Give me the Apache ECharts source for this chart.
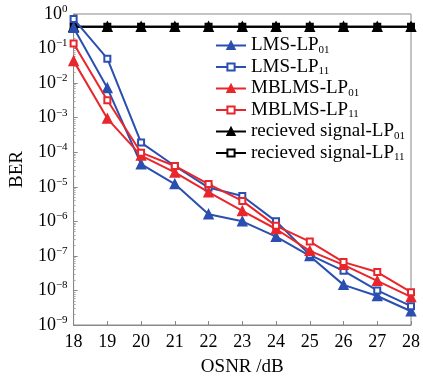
<!DOCTYPE html>
<html><head><meta charset="utf-8">
<script src="https://cdn.jsdelivr.net/npm/echarts@6/dist/echarts.min.js"></script>
<style>html,body{margin:0;padding:0;background:#fff}#c{width:423px;height:382px}</style>
</head><body><div id="c"></div>
<script>
var osnr = [18,19,20,21,22,23,24,25,26,27,28];
var lmsLP01 = [0.40,7.2e-3,4.5e-5,1.2e-5,1.6e-6,1.0e-6,3.6e-7,1.0e-7,1.45e-8,6.9e-9,2.5e-9];
var lmsLP11 = [0.72,0.051,1.9e-4,4.0e-5,9.5e-6,5.4e-6,1.0e-6,1.07e-7,3.7e-8,1.0e-8,3.5e-9];
var mblmsLP01 = [0.044,9.4e-4,8.0e-5,2.6e-5,7.0e-6,2.0e-6,6.0e-7,1.4e-7,5.5e-8,1.9e-8,6.5e-9];
var mblmsLP11 = [0.14,3.2e-3,9.7e-5,4.0e-5,1.2e-5,3.9e-6,7.4e-7,2.6e-7,6.6e-8,3.4e-8,8.9e-9];
var recvLP01 = [0.43,0.43,0.43,0.43,0.43,0.43,0.43,0.43,0.43,0.43,0.43];
var recvLP11 = [0.43,0.43,0.43,0.43,0.43,0.43,0.43,0.43,0.43,0.43,0.43];
var yTickExp = [0,-1,-2,-3,-4,-5,-6,-7,-8,-9];

var FONT = 'Liberation Serif';
var BLUE = '#2a4fb0', RED = '#e8262b', BLACK = '#000';
function pairs(v){ return osnr.map(function(x,i){ return [x, v[i]]; }); }
function ser(name, data, color, sym, z){
  return {name:name, type:'line', data:pairs(data), z:z,
    lineStyle:{color:color,width:2}, itemStyle:{color:color, borderColor:color, borderWidth:1.5},
    symbol:sym, symbolSize: sym==='triangle'?9:6, showSymbol:true, animation:false};
}
var chart = echarts.init(document.getElementById('c'));
chart.setOption({
  animation:false,
  grid:{left:67, right:12, top:14, bottom:56, show:true, borderColor:'#888', borderWidth:1},
  legend:{
    orient:'vertical', left:210, top:31, itemGap:2, itemWidth:30, itemHeight:9,
    textStyle:{fontFamily:FONT, fontSize:19, color:'#000',
      rich:{b:{fontFamily:FONT,fontSize:19,color:'#000'}, s:{fontFamily:FONT,fontSize:11,color:'#000',verticalAlign:'bottom',padding:[9,0,0,0]}}},
    formatter:function(n){ var m=n.match(/^(.*)LP(\d\d)$/); return '{b|'+m[1]+'LP}{s|'+m[2]+'}'; },
    data:['LMS-LP01','LMS-LP11','MBLMS-LP01','MBLMS-LP11','recieved signal-LP01','recieved signal-LP11']
  },
  xAxis:{type:'value', min:18, max:28, interval:1,
    name:'OSNR /dB', nameLocation:'middle', nameGap:33,
    nameTextStyle:{fontFamily:FONT, fontSize:19, color:'#000'},
    axisLine:{lineStyle:{color:'#888'}}, axisTick:{inside:true, length:4, lineStyle:{color:'#888'}},
    axisLabel:{fontFamily:FONT, fontSize:18, color:'#000', margin:8},
    splitLine:{show:false}},
  yAxis:{type:'log', logBase:10, min:1e-9, max:1,
    name:'BER', nameLocation:'middle', nameGap:46,
    nameTextStyle:{fontFamily:FONT, fontSize:19, color:'#000'},
    axisLine:{lineStyle:{color:'#888'}}, axisTick:{inside:true, length:4, lineStyle:{color:'#888'}},
    minorTick:{show:true, splitNumber:9, length:2, lineStyle:{color:'#aaa'}},
    axisLabel:{fontFamily:FONT, fontSize:18, color:'#000', margin:6,
      formatter:function(v){ var e=Math.round(Math.log10(v)); return '{b|10}{s|'+(e<0?'\u2212'+(-e):e)+'}'; },
      rich:{b:{fontFamily:FONT,fontSize:18,color:'#000'}, s:{fontFamily:FONT,fontSize:11,color:'#000',verticalAlign:'top',padding:[0,0,10,0]}}},
    splitLine:{show:false}},
  series:[
    ser('recieved signal-LP11', recvLP11, BLACK, 'emptyRect', 1),
    ser('recieved signal-LP01', recvLP01, BLACK, 'triangle', 2),
    ser('LMS-LP01', lmsLP01, BLUE, 'triangle', 3),
    ser('LMS-LP11', lmsLP11, BLUE, 'emptyRect', 3),
    ser('MBLMS-LP01', mblmsLP01, RED, 'triangle', 4),
    ser('MBLMS-LP11', mblmsLP11, RED, 'emptyRect', 4)
  ]
});
</script></body></html>
